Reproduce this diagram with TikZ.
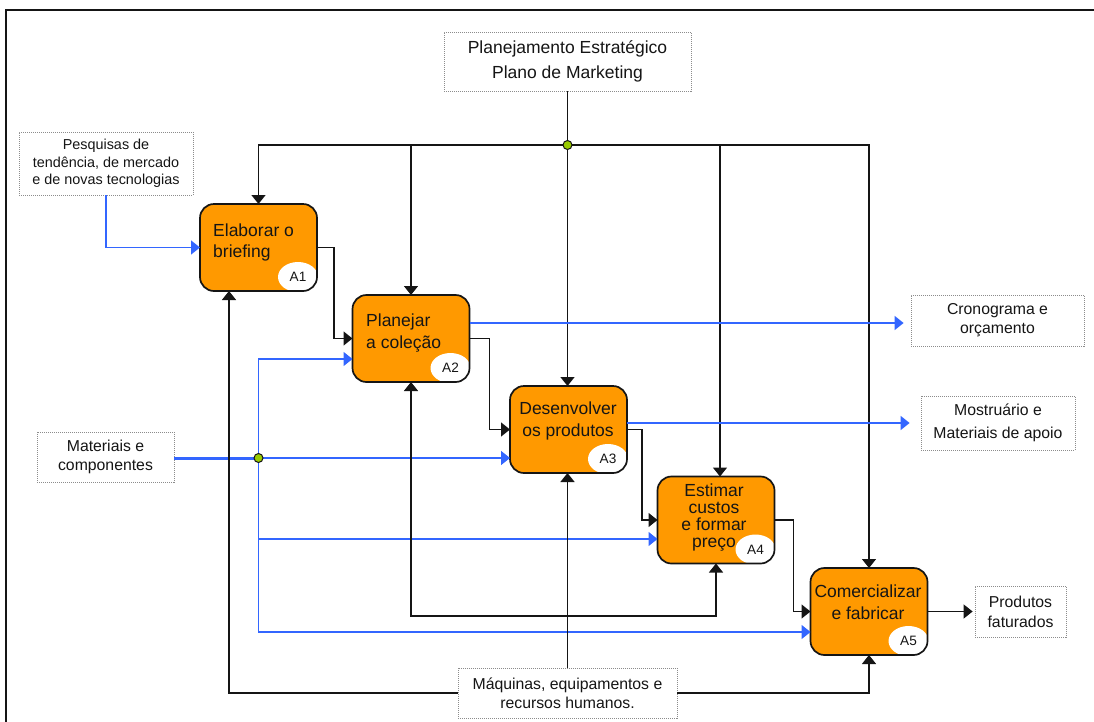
\documentclass[tikz,border=0pt]{standalone}
\usepackage{fontspec}
\setmainfont{Liberation Sans}
\usetikzlibrary{arrows.meta,calc,shapes.geometric}

\definecolor{boxorange}{HTML}{FF9900}
\definecolor{flowblue}{HTML}{3366FF}
\definecolor{dotgreen}{HTML}{99CC00}
\definecolor{ink}{HTML}{151515}

\tikzset{
  proc/.style={fill=boxorange, minimum width=117pt, minimum height=87pt,
    inner sep=0pt, outer sep=0pt, rounded corners=14pt},
  procline/.style={draw=ink, line width=1.7pt, rounded corners=14pt},
  ptext/.style={font=\fontsize{17.5}{21.5}\selectfont, text=ink, inner sep=0pt},
  tag/.style={ellipse, fill=white, minimum width=40pt, minimum height=30pt,
    inner sep=0pt, font=\fontsize{13.6}{15}\selectfont, text=ink},
  note/.style={draw=black!45, dash pattern=on 1pt off 1pt, line width=0.8pt,
    fill=white, inner sep=0pt, align=center, text=ink},
  ctl/.style={draw=ink, line width=1.4pt},
  inp/.style={draw=flowblue, line width=1.4pt},
  tip/.style={-{Triangle[length=9pt,width=14pt]}},
  junction/.style={circle, fill=dotgreen, draw=ink, line width=1pt,
    minimum size=9pt, inner sep=0pt},
}

\begin{document}
\begin{tikzpicture}[x=1pt, y=-1pt]
\useasboundingbox (0,0) rectangle (1094,721);
\fill[white] (0,0) rectangle (1094,721);

% outer frame
\draw[draw=ink, line width=2pt] (6,730) -- (6,10) -- (1100,10);

% ---- activity boxes ----
\node[proc] (A1) at (258.5,247.5) {};
\node[ptext, anchor=west, align=left] (t1) at (213,242.5) {Elaborar o\\briefing};
\begin{scope}
  \clip[rounded corners=14pt] (A1.north west) rectangle (A1.south east);
  \node[tag] (e1) at ($(A1.south east)+(-19,-14)$) {A1};
\end{scope}
\draw[procline] (A1.north west) rectangle (A1.south east);

\node[proc] (A2) at (411,338.5) {};
\node[ptext, anchor=west, align=left] (t2) at (366,333) {Planejar\\a coleção};
\begin{scope}
  \clip[rounded corners=14pt] (A2.north west) rectangle (A2.south east);
  \node[tag] (e2) at ($(A2.south east)+(-19,-14)$) {A2};
\end{scope}
\draw[procline] (A2.north west) rectangle (A2.south east);

\node[proc] (A3) at (568.5,429.5) {};
\node[ptext, align=center] (t3) at (568,421) {Desenvolver\\os produtos};
\begin{scope}
  \clip[rounded corners=14pt] (A3.north west) rectangle (A3.south east);
  \node[tag] (e3) at ($(A3.south east)+(-19,-14)$) {A3};
\end{scope}
\draw[procline] (A3.north west) rectangle (A3.south east);

\node[proc] (A4) at (716,520) {};
\node[ptext, align=center, font=\fontsize{17.5}{17}\selectfont] (t4) at (714,518)
  {Estimar\\custos\\e formar\\preço};
\begin{scope}
  \clip[rounded corners=14pt] (A4.north west) rectangle (A4.south east);
  \node[tag] (e4) at ($(A4.south east)+(-19,-14)$) {A4};
\end{scope}
\draw[procline] (A4.north west) rectangle (A4.south east);

\node[proc] (A5) at (869,611.5) {};
\node[ptext, align=center] (t5) at (868,602) {Comercializar\\e fabricar};
\begin{scope}
  \clip[rounded corners=14pt] (A5.north west) rectangle (A5.south east);
  \node[tag] (e5) at ($(A5.south east)+(-19,-14)$) {A5};
\end{scope}
\draw[procline] (A5.north west) rectangle (A5.south east);

% ---- outside notes ----
\node[note, minimum width=247pt, minimum height=59pt, font=\fontsize{17.5}{25}\selectfont]
  (plan) at (567.5,61.5) {Planejamento Estratégico\\Plano de Marketing};
\node[note, minimum width=174pt, minimum height=63pt, font=\fontsize{14.4}{17.5}\selectfont]
  (pesq) at (106,163.5) {Pesquisas de\\tendência, de mercado\\e de novas tecnologias};
\node[note, minimum width=137pt, minimum height=50pt, font=\fontsize{15.8}{19}\selectfont]
  (mat) at (105.5,457) {Materiais e\\componentes};
\node[note, minimum width=173pt, minimum height=51pt, font=\fontsize{15.8}{19}\selectfont]
  (cron) at (997.5,320.5) {Cronograma e\\orçamento};
\node[note, minimum width=154pt, minimum height=54pt, font=\fontsize{15.8}{23}\selectfont]
  (mos) at (998,423) {Mostruário e\\Materiais de apoio};
\node[note, minimum width=91pt, minimum height=51pt, font=\fontsize{15.8}{20}\selectfont]
  (prod) at (1020.5,611.5) {Produtos\\faturados};
\node[note, minimum width=219pt, minimum height=50pt, font=\fontsize{15.8}{19}\selectfont]
  (mach) at (567.5,693) {Máquinas, equipamentos e\\recursos humanos.};

% ---- controls from the top ----
\coordinate (jt) at (567.5,145);
\coordinate (c2) at (A2.north |- jt);
\coordinate (c4) at (720,145);
\draw[ctl] (plan.south) -- (jt);
\draw[ctl, tip] (jt) -| (A1.north);
\draw[ctl, tip] (jt) -| (A5.north);
\draw[ctl, tip] (c2) -- (A2.north);
\draw[ctl, tip] (jt) -- (jt |- A3.north);
\draw[ctl, tip] (c4) -- (c4 |- A4.north);
\node[junction] (jtdot) at (jt) {};

% ---- inputs ----
\draw[inp, tip] (pesq.south) |- (A1.west);
\coordinate (jm) at (258.5,458);
\coordinate (i2) at ($(A2.west)+(0,20.5)$);
\coordinate (i4) at ($(A4.west)+(0,19)$);
\coordinate (i5) at ($(A5.west)+(0,20.5)$);
\draw[draw=flowblue, line width=3pt] (mat.east |- jm) -- (jm);
\draw[inp, tip] (jm) |- (i2);
\draw[inp, tip] (jm) -- (A3.west |- jm);
\draw[inp, tip] (jm) |- (i4);
\draw[inp, tip] (jm) |- (i5);
\node[junction] (jmdot) at (jm) {};

% ---- outputs ----
\coordinate (o2) at ($(A2.east)+(0,-15.5)$);
\coordinate (o3) at ($(A3.east)+(0,-6.5)$);
\draw[inp, tip, shorten >=7pt] (o2) -- (cron.west |- o2);
\draw[inp, tip, shorten >=11pt] (o3) -- (mos.west |- o3);

% ---- main flow between activities ----
\draw[ctl, tip] (A1.east) -- ++(17,0) |- (A2.west);
\draw[ctl, tip] (A2.east) -- ++(20,0) |- (A3.west);
\draw[ctl, tip] (A3.east) -- ++(15,0) |- (A4.west);
\draw[ctl, tip] (A4.east) -- ++(19,0) |- (A5.west);
\draw[ctl, tip, shorten >=2pt] (A5.east) -- (prod.west);

% ---- mechanisms from the bottom ----
\coordinate (jb) at (567.5,616);
\coordinate (m1) at ($(A1.south)+(-29.5,0)$);
\draw[ctl, tip] (mach.north) -- (mach.north |- A3.south);
\draw[ctl, tip] (jb) -| (A2.south);
\draw[ctl, tip] (jb) -| (A4.south);
\draw[ctl, tip] (mach.west) -| (m1);
\draw[ctl, tip] (mach.east) -| (A5.south);
\end{tikzpicture}
\end{document}
